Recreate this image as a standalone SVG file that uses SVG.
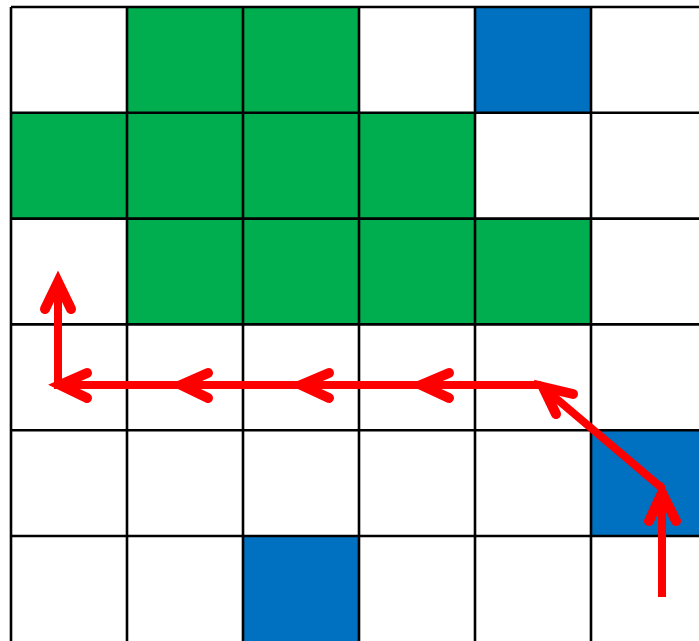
<svg xmlns="http://www.w3.org/2000/svg" width="699" height="641" viewBox="0 0 699 641">
<style>
.g{fill:#00AE4F}
.b{fill:#0070C0}
.grid{stroke:#000;stroke-width:2.6;fill:none}
.seg{stroke:#FF0000;stroke-width:8;fill:none;stroke-linecap:butt}
.head{stroke:#FF0000;stroke-width:10;fill:none;stroke-linecap:round;stroke-linejoin:miter}
</style>
<rect width="699" height="641" fill="#fff"/>
<g id="cells">
<rect id="c01" class="g" x="127" y="7" width="116" height="105.8"/>
<rect id="c02" class="g" x="243" y="7" width="116" height="105.8"/>
<rect id="c04" class="b" x="475" y="7" width="116" height="105.8"/>
<rect id="c10" class="g" x="11" y="112.8" width="116" height="105.8"/>
<rect id="c11" class="g" x="127" y="112.8" width="116" height="105.8"/>
<rect id="c12" class="g" x="243" y="112.8" width="116" height="105.8"/>
<rect id="c13" class="g" x="359" y="112.8" width="116" height="105.8"/>
<rect id="c21" class="g" x="127" y="218.6" width="116" height="105.8"/>
<rect id="c22" class="g" x="243" y="218.6" width="116" height="105.8"/>
<rect id="c23" class="g" x="359" y="218.6" width="116" height="105.8"/>
<rect id="c24" class="g" x="475" y="218.6" width="116" height="105.8"/>
<rect id="c45" class="b" x="591" y="430.2" width="116" height="105.8"/>
<rect id="c52" class="b" x="243" y="536" width="116" height="105.8"/>
</g>
<g id="gridlines" class="grid">
<path d="M11 7V641M127 7V641M243 7V641M359 7V641M475 7V641M591 7V641"/>
<path d="M11 7H699M11 112.8H699M11 218.6H699M11 324.4H699M11 430.2H699M11 536H699"/>
</g>
<g id="connectors">
<g id="a1"><path class="seg" d="M662 597V494"/><path class="head" d="M649 521L662 493L676 521"/></g>
<g id="a2"><path class="seg" d="M663 489L545 389"/><path class="head" d="M556 414L543 387L573 394"/></g>
<g id="a3"><path class="seg" d="M541 385H423"/><path class="head" d="M449 373L421 385L449 398"/></g>
<g id="a4"><path class="seg" d="M421 385H303"/><path class="head" d="M329 373L301 385L329 398"/></g>
<g id="a5"><path class="seg" d="M301 385H183"/><path class="head" d="M208 373L181 385L208 398"/></g>
<g id="a6"><path class="seg" d="M181 385H62"/><path class="head" d="M87 373L60 385L87 398"/></g>
<g id="a7"><path class="seg" d="M58 389V284"/><path class="head" d="M45 309L58 282L71 309"/></g>
</g>
</svg>
